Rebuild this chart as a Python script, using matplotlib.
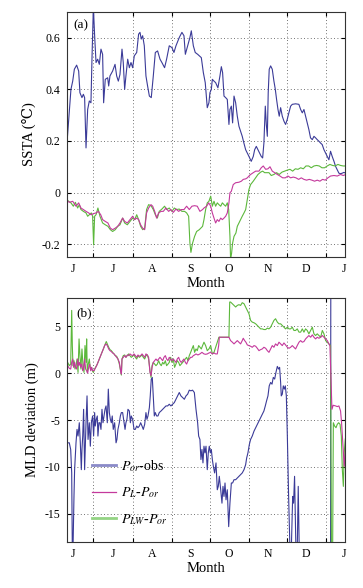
import numpy as np
import matplotlib
matplotlib.use('Agg')
import matplotlib.pyplot as plt
from matplotlib.lines import Line2D

plt.rcParams['font.family'] = ['Liberation Serif', 'DejaVu Serif']
plt.rcParams['mathtext.fontset'] = 'stix'
plt.rcParams['axes.unicode_minus'] = False

# x axis: days counted from 1 June
month_starts = [30, 61, 92, 122, 153, 183, 214]
month_mid = [14, 45.5, 76, 106.5, 137, 167.5, 198, 228]
month_labels = ['J', 'J', 'A', 'S', 'O', 'N', 'D', 'J']

# ---- panel (a) SSTA ----
day_a_obs = [8.4, 10.5, 12.3, 13.7, 15.0, 16.8, 18.4, 19.4, 21.0, 22.1, 23.1, 24.2, 25.5, 26.8, 28.1, 28.9, 30.0, 31.0, 32.1, 33.4,
             34.7, 36.0, 37.3, 38.1, 39.4, 41.3, 42.1, 43.1, 45.2, 47.1, 48.4, 49.7, 51.0, 52.6, 53.6, 54.7, 55.7, 57.1, 58.4, 59.7,
             61.0, 62.3, 64.2, 65.7, 66.8, 67.8, 68.9, 70.2, 71.5, 72.8, 74.2, 75.7, 77.3, 78.9, 80.7, 82.6, 84.1, 86.2, 87.8, 89.9,
             92.0, 93.6, 95.2, 97.8, 99.9, 101.5, 102.6, 104.4, 106.2, 107.3, 108.9, 110.4, 112.3, 113.6, 115.2, 116.8,
             118.3, 119.9, 121.2, 122.0, 123.1, 123.9, 125.2, 126.5, 128.3, 129.9, 131.0, 132.0, 133.1, 134.4, 135.7, 137.0, 137.8, 138.9, 139.9, 141.0,
             142.3, 143.6, 144.9, 146.2, 147.5, 148.8, 150.2, 151.5, 152.8, 154.6, 156.2, 157.3, 158.6, 159.9, 161.2, 162.5, 163.6, 164.6, 165.7, 166.5,
             167.3, 168.0, 168.8, 169.9, 171.2, 172.5, 173.6, 174.6, 175.7, 176.7, 177.8, 179.1, 180.4, 181.7, 183.0, 184.3, 185.7, 187.0, 189.6, 192.2,
             193.6, 194.9, 196.2, 197.5, 198.8, 200.1, 201.4, 202.8, 204.1, 205.4, 206.7, 208.0, 209.3, 210.6, 212.0, 213.3, 214.6, 215.9, 217.2, 218.5,
             219.9, 221.2, 222.5, 223.8, 225.1, 226.4, 227.7, 229.3]
ssta_obs = [0.14, 0.283, 0.40, 0.432, 0.478, 0.494, 0.471, 0.387, 0.368, 0.381, 0.368, 0.173, 0.322, 0.355, 0.348, 0.517, 0.72, 0.608, 0.504, 0.517,
            0.497, 0.556, 0.536, 0.348, 0.439, 0.445, 0.413, 0.452, 0.471, 0.497, 0.452, 0.432, 0.458, 0.556, 0.504, 0.40, 0.452, 0.517, 0.484, 0.504,
            0.484, 0.53, 0.543, 0.614, 0.621, 0.595, 0.608, 0.569, 0.452, 0.413, 0.374, 0.368, 0.452, 0.543, 0.549, 0.517, 0.504, 0.484, 0.517, 0.569,
            0.562, 0.543, 0.569, 0.601, 0.621, 0.608, 0.536, 0.569, 0.601, 0.627, 0.569, 0.543, 0.536, 0.53, 0.523, 0.465,
            0.426, 0.329, 0.348, 0.387, 0.40, 0.439, 0.432, 0.426, 0.406, 0.452, 0.488, 0.465, 0.374, 0.368, 0.361, 0.264, 0.322, 0.335, 0.27, 0.374,
            0.348, 0.296, 0.257, 0.238, 0.218, 0.192, 0.166, 0.153, 0.14, 0.121, 0.14, 0.166, 0.179, 0.166, 0.153, 0.14, 0.134, 0.192, 0.335, 0.264,
            0.218, 0.387, 0.478, 0.491, 0.478, 0.432, 0.40, 0.361, 0.322, 0.296, 0.329, 0.296, 0.277, 0.264, 0.283, 0.309, 0.335, 0.342, 0.344, 0.342,
            0.322, 0.309, 0.322, 0.296, 0.27, 0.244, 0.212, 0.205, 0.218, 0.212, 0.205, 0.199, 0.192, 0.186, 0.166, 0.153, 0.14, 0.127, 0.16, 0.14,
            0.121, 0.101, 0.088, 0.075, 0.073, 0.075, 0.078, 0.075]

day_a_L = [8.4, 11.0, 13.7, 16.3, 18.4, 20.2, 22.1, 24.2, 26.3, 28.1, 30.0, 32.1, 33.9, 35.8, 37.3, 39.4, 41.5, 43.4, 45.2, 47.3,
           49.2, 51.0, 53.1, 54.7, 56.8, 58.9, 61.0, 62.6, 64.2, 65.7, 67.3, 68.9, 70.5, 72.0, 73.6, 75.5, 76.8, 78.4, 79.9, 81.5,
           83.4, 85.2, 87.3, 89.4, 91.2, 93.1, 95.2, 97.3, 99.4, 101.5, 103.6, 105.7, 107.8, 109.9, 112.0, 114.1, 116.2,
           117.3, 119.4, 121.0, 122.6, 123.9, 125.2, 126.5, 127.8, 129.1, 130.5, 131.8, 133.1, 134.4, 135.7, 137.0, 137.8, 138.9, 140.4, 142.3, 144.9,
           146.8, 148.3, 150.2, 151.5, 152.8, 154.1, 156.2, 158.1, 160.7, 162.5, 164.1, 166.0, 167.8, 169.4, 171.2, 173.1, 175.2, 177.3, 179.4, 181.5,
           183.6, 185.7, 187.8, 189.9, 192.0, 194.1, 196.2, 198.3, 200.4, 202.5, 204.6, 206.7, 208.8, 210.9, 213.0, 215.1, 217.2, 219.9, 222.5, 225.1,
           227.2, 229.3]
ssta_L = [-0.027, -0.038, -0.034, -0.053, -0.04, -0.06, -0.066, -0.073, -0.079, -0.086, -0.082, -0.079, -0.073, -0.086, -0.105, -0.112, -0.118, -0.138, -0.144, -0.138,
          -0.131, -0.118, -0.099, -0.112, -0.118, -0.105, -0.092, -0.105, -0.099, -0.105, -0.125, -0.138, -0.144, -0.079, -0.06, -0.047, -0.053, -0.073, -0.099, -0.079,
          -0.073, -0.073, -0.06, -0.073, -0.066, -0.077, -0.064, -0.073, -0.066, -0.066, -0.053, -0.066, -0.053, -0.051, -0.053, -0.073, -0.066,
          -0.06, -0.053, -0.04, -0.053, -0.079, -0.099, -0.118, -0.105, -0.112, -0.099, -0.105, -0.099, -0.092, -0.079, -0.04, -0.001, 0.005, 0.031, 0.038, 0.04,
          0.044, 0.051, 0.053, 0.057, 0.064, 0.07, 0.077, 0.083, 0.083, 0.096, 0.103, 0.09, 0.092, 0.1, 0.083, 0.077, 0.07, 0.064, 0.057, 0.057,
          0.064, 0.057, 0.06, 0.057, 0.051, 0.057, 0.051, 0.048, 0.051, 0.048, 0.044, 0.048, 0.044, 0.051, 0.048, 0.057, 0.064, 0.066, 0.064, 0.07,
          0.066, 0.07]

day_a_LW = [8.4, 10.5, 12.3, 14.2, 15.8, 17.6, 18.9, 20.2, 22.1, 24.2, 25.5, 26.8, 28.4, 29.4, 30.2, 31.0, 32.1, 33.6, 35.2, 37.3,
            39.4, 41.5, 43.4, 45.2, 47.3, 49.2, 51.0, 53.1, 54.7, 56.8, 58.9, 61.0, 62.6, 64.2, 65.7, 67.3, 68.9, 70.5, 72.0, 73.6,
            75.5, 77.3, 78.9, 80.5, 82.0, 84.1, 86.2, 87.8, 89.9, 92.0, 93.9, 95.7, 97.8, 99.9, 102.0, 103.6, 105.2, 106.2, 107.0, 108.3,
            109.9, 111.5, 113.6, 116.2,
            117.3, 118.6, 119.9, 121.2, 122.6, 123.9, 125.2, 126.5, 127.8, 129.1, 130.5, 131.8, 133.1, 134.4, 135.7, 136.8, 137.8, 138.3, 139.1, 139.9,
            141.0, 142.5, 143.6, 144.9, 146.2, 147.5, 148.9, 150.2, 151.5, 152.8, 154.1, 156.2, 158.1, 159.9, 162.0, 163.6, 165.2, 166.7, 168.6, 170.4,
            172.5, 174.6, 176.7, 178.8, 180.9, 183.1, 185.2, 187.3, 189.4, 191.5, 193.6, 195.7, 197.8, 199.9, 202.0, 204.1, 206.2, 208.3, 210.4, 212.5,
            214.6, 216.7, 218.8, 220.9, 223.0, 225.1, 227.2, 229.3]
ssta_LW = [-0.025, -0.034, -0.04, -0.053, -0.038, -0.06, -0.047, -0.066, -0.073, -0.079, -0.092, -0.086, -0.079, -0.092, -0.203, -0.092, -0.086, -0.06, -0.092, -0.118,
           -0.125, -0.131, -0.144, -0.151, -0.144, -0.131, -0.125, -0.099, -0.118, -0.125, -0.112, -0.099, -0.105, -0.086, -0.105, -0.131, -0.144, -0.138, -0.066, -0.047,
           -0.051, -0.066, -0.086, -0.099, -0.073, -0.064, -0.053, -0.066, -0.06, -0.073, -0.06, -0.066, -0.064, -0.073, -0.073, -0.079, -0.092, -0.196, -0.232, -0.196,
           -0.17, -0.151, -0.144, -0.131,
           -0.105, -0.066, -0.04, -0.034, -0.014, -0.053, -0.034, -0.053, -0.04, -0.047, -0.053, -0.04, -0.047, -0.053, -0.04, -0.066, -0.17, -0.26, -0.235, -0.196,
           -0.17, -0.157, -0.131, -0.118, -0.105, -0.092, -0.079, -0.066, -0.027, 0.012, 0.031, 0.044, 0.057, 0.07, 0.079, 0.083, 0.077, 0.077, 0.077, 0.066,
           0.07, 0.077, 0.07, 0.079, 0.083, 0.087, 0.09, 0.083, 0.092, 0.09, 0.096, 0.092, 0.103, 0.103, 0.096, 0.103, 0.105, 0.103, 0.096, 0.096,
           0.103, 0.109, 0.105, 0.103, 0.109, 0.105, 0.103, 0.103]

# ---- panel (b) MLD deviation ----
day_b_obs = [8.4, 9.7, 11.0, 12.1, 12.9, 13.4, 13.9, 14.7, 15.2, 16.3, 17.1, 17.9, 18.9, 19.7, 20.5, 21.0, 21.6, 22.3, 23.1, 23.7,
             24.2, 25.0, 25.8, 26.8, 27.6, 28.4, 29.4, 30.2, 31.0, 31.5, 32.3, 33.1, 33.6, 34.4, 35.2, 36.0, 36.8, 37.6, 38.4, 39.2,
             40.0, 41.0, 41.8, 42.6, 43.4, 44.2, 44.9, 45.7, 46.8, 47.9, 48.6, 49.4, 50.5, 51.3, 52.1, 53.1, 54.2, 55.0, 55.7, 56.5,
             57.3, 58.4, 59.2, 59.9, 61.0, 62.1, 63.1, 64.2, 65.2, 66.3, 67.3, 68.4, 69.4, 70.5, 71.5, 72.3, 73.1, 74.2, 74.9, 75.7,
             76.5, 77.3, 78.1, 78.9, 79.9, 81.0, 82.0, 83.4, 84.7, 86.0, 87.3, 88.6, 89.9, 91.2, 92.6, 93.9, 95.2, 96.5, 97.8, 99.1,
             100.5, 101.8, 103.1, 104.4, 105.7, 107.0, 108.3, 109.7, 111.0, 112.3, 113.1, 114.1, 114.9, 115.7, 116.5, 117.3, 118.1, 118.9,
             119.9, 120.7, 121.5, 122.3, 123.1, 123.9, 124.7, 125.7, 126.8, 127.8, 128.6, 129.4, 130.5, 131.5, 132.3, 133.1, 133.9, 134.7, 135.7, 136.8,
             137.8, 138.9, 139.9, 141.0, 142.3, 143.6, 144.9, 146.2, 147.5, 148.9, 150.2, 151.0, 152.0, 153.1, 154.1, 155.4, 156.8, 158.1, 159.4, 160.7,
             162.0, 163.3, 164.6, 165.7, 166.7, 167.8, 168.8, 169.9, 171.0, 172.0, 173.1, 174.1, 175.2, 176.2, 177.0, 177.8, 178.3, 179.1, 179.9, 180.7,
             181.5, 182.3, 183.1, 184.1, 185.2, 186.2, 187.3, 188.0, 188.8, 189.9, 190.9, 191.7, 192.5, 217.2, 217.5, 229.3]
mld_obs = [-8.14, -7.43, -7.43, -8.14, -10.64, -19, -19, -13.14, -10.29, -7.43, -6.0, -6.71, -5.29, -7.43, -10.29, -8.14, -6.71, -3.86, -10.29, -7.43,
           -5.29, -2.43, -7.07, -5.29, -7.79, -5.29, -4.57, -6.71, -4.21, -5.64, -4.93, -4.57, -6.71, -5.29, -5.29, -6.0, -3.86, -5.29, -4.57, -3.86,
           -3.5, -5.29, -1.71, -4.21, -4.93, -5.29, -4.57, -6.0, -5.29, -7.43, -7.07, -6.0, -5.29, -4.57, -4.21, -4.21, -5.29, -6.0, -5.29, -4.93,
           -3.86, -4.04, -5.29, -4.57, -4.93, -6.0, -6.0, -5.64, -5.82, -5.64, -5.29, -5.64, -6.0, -5.46, -4.21, -4.93, -4.57, -3.68, -2.43, -0.64,
           -0.46, -2.43, -4.57, -4.21, -4.57, -4.57, -4.21, -4.04, -3.86, -3.68, -3.5, -3.5, -3.32, -3.5, -3.32, -3.14, -2.79, -2.43, -2.07, -2.43,
           -2.61, -2.79, -2.43, -2.25, -1.82, -1.89, -1.82, -2.07, -3.86, -5.29, -6.71, -7.07, -9.21, -8.14, -9.57, -7.79, -8.5, -7.79,
           -10.29, -8.5, -7.79, -8.5, -8.14, -9.21, -9.93, -10.64, -9.57, -12.43, -12.07, -11.0, -12.43, -13.86, -12.07, -13.14, -11.71, -13.5, -12.43, -16.36,
           -13.86, -11.71, -11.71, -11.36, -11.36, -11.18, -11.0, -10.82, -10.64, -10.29, -9.75, -9.04, -8.5, -7.61, -7.07, -6.71, -6.18, -5.82, -5.46, -5.11,
           -4.75, -4.39, -4.04, -3.5, -2.96, -2.43, -1.36, -1.0, -1.18, -0.46, -0.64, 0.07, 0.71, 0.43, 0.61, -1.0, -2.43, -2.25, -1.36, -1.71,
           -1.36, -2.43, -6.71, -13.14, -19, -19, -13.14, -13.86, -11.0, -19, -19, -12.07, -19, -19, 25, 25]

day_b_L = [8.4, 9.7, 11.0, 12.1, 12.9, 13.7, 14.4, 15.2, 16.0, 16.8, 17.6, 18.4, 19.2, 20.0, 20.8, 21.6, 22.3, 23.1, 23.9, 24.7,
           25.5, 26.3, 27.1, 27.9, 28.7, 29.4, 30.5, 31.5, 32.6, 33.6, 34.7, 35.8, 36.8, 37.9, 38.9, 40.0, 41.0, 42.1, 43.1, 44.2,
           45.2, 46.3, 47.3, 48.4, 49.4, 50.5, 51.5, 52.1, 52.6, 53.6, 54.7, 55.7, 56.8, 57.8, 58.9, 59.9, 61.0, 62.1, 63.1, 64.2,
           65.2, 66.3, 67.3, 68.4, 69.4, 70.5, 71.5, 72.6, 73.6, 74.7, 75.5, 76.3, 77.3, 78.4, 79.4, 80.5, 81.5, 82.6, 83.6, 84.7,
           85.7, 86.8, 87.8, 88.9, 89.9, 91.0, 92.0, 93.1, 94.1, 95.2, 96.2, 97.3, 98.3, 99.4, 100.5, 101.5, 102.6, 103.6, 104.7, 105.7,
           106.8, 107.8, 108.9, 109.9, 111.0, 112.5, 114.1, 115.7, 117.3,
           118.6, 119.9, 121.2, 122.6, 123.9, 125.2, 126.5, 127.8, 128.9, 129.4, 130.5, 131.8, 133.1, 134.4, 135.7, 137.0, 138.3, 139.7, 141.0, 142.3,
           143.6, 144.9, 146.2, 147.5, 148.3, 149.4, 150.4, 151.5, 152.8, 154.1, 155.4, 156.8, 158.1, 159.4, 160.7, 162.0, 163.3, 164.6, 166.0, 167.3,
           168.6, 169.9, 171.2, 172.5, 173.8, 175.2, 176.5, 177.8, 179.1, 180.4, 181.7, 183.1, 184.4, 185.7, 187.0, 188.3, 189.6, 190.9, 192.3, 193.6,
           194.9, 196.2, 197.5, 198.8, 200.1, 201.5, 202.8, 204.1, 205.4, 206.7, 208.0, 209.4, 210.7, 212.0, 213.3, 214.6, 215.9, 216.7, 218.3, 219.3,
           221.2, 222.5, 223.8, 225.1, 225.9, 226.7, 227.5, 228.0, 228.8, 229.3]
mld_L = [0.61, 0.79, 0.5, 0.43, 1.14, 1.5, 0.61, 1.14, 0.61, 0.43, 1.5, 0.79, 1.14, 0.61, 0.96, 0.25, 0.61, 1.5, 0.43, 0.25,
         0.0, 0.61, 0.96, 0.25, 0.61, 0.25, 0.25, 0.5, 0.79, 1.14, 1.5, 1.86, 2.21, 2.57, 2.93, 3.11, 2.93, 2.57, 2.39, 2.29,
         2.14, 2.04, 1.86, 1.68, 1.5, 1.14, 0.25, -0.11, 1.5, 1.68, 1.86, 1.68, 1.93, 1.86, 2.04, 1.93, 1.86, 2.04, 1.86, 1.68,
         1.93, 1.79, 1.86, 2.04, 1.86, 1.68, 2.04, 1.93, 1.68, 0.07, -0.29, 0.61, 1.14, 1.32, 1.5, 1.32, 1.5, 1.68, 1.5, 1.32,
         1.68, 1.86, 1.5, 1.32, 1.68, 1.5, 1.32, 1.5, 1.32, 1.14, 1.5, 1.68, 1.32, 1.14, 1.32, 1.5, 1.14, 0.96, 1.32, 1.5,
         1.68, 1.68, 1.86, 1.93, 2.04, 1.93, 2.04, 2.21, 2.04,
         2.0, 2.04, 2.14, 2.21, 2.04, 2.14, 2.04, 2.04, 2.93, 3.82, 3.82, 3.82, 3.82, 3.82, 3.82, 3.82, 3.46, 3.29, 3.11, 3.29,
         3.46, 3.29, 3.11, 3.46, 3.71, 3.46, 3.29, 3.0, 2.93, 2.86, 2.75, 2.93, 2.86, 2.64, 2.39, 2.5, 2.57, 2.75, 2.64, 2.39,
         2.21, 2.57, 2.93, 2.75, 3.11, 2.93, 3.29, 3.11, 2.93, 3.21, 3.0, 2.75, 2.64, 2.75, 2.93, 2.75, 2.57, 2.93, 3.29, 3.46,
         3.29, 3.36, 3.64, 3.82, 4.0, 3.82, 4.07, 3.82, 3.64, 3.82, 3.71, 3.82, 4.0, 3.82, 3.64, 3.46, 3.11, 2.93, -3.86, -3.43,
         -3.5, -3.57, -3.5, -4.04, -5.29, -7.07, -8.86, -9.93, -8.5, -7.07]

day_b_LW = [8.4, 9.7, 11.0, 12.1, 12.9, 13.4, 13.9, 14.7, 15.5, 16.3, 17.1, 17.9, 18.7, 19.4, 20.2, 21.0, 21.8, 22.6, 23.4, 24.2,
            24.7, 25.2, 26.0, 26.8, 27.6, 28.4, 29.2, 30.0, 31.0, 32.1, 33.1, 34.2, 35.2, 36.3, 37.3, 38.4, 39.4, 40.2, 41.0, 42.1,
            43.1, 44.2, 45.2, 46.3, 47.3, 48.4, 49.4, 50.5, 51.5, 52.1, 52.6, 53.6, 54.7, 55.7, 56.8, 57.8, 58.9, 59.9, 61.0, 62.1,
            63.1, 64.2, 65.2, 66.3, 67.3, 68.4, 69.4, 70.5, 71.5, 72.6, 73.6, 74.7, 75.5, 76.3, 77.3, 78.4, 79.4, 80.5, 81.5, 82.6,
            83.6, 84.7, 85.7, 86.8, 87.8, 88.9, 89.9, 91.0, 92.0, 93.1, 94.1, 95.2, 96.2, 97.3, 98.3, 99.4, 100.5, 101.5, 102.6, 103.6,
            104.7, 105.7, 106.8, 107.8, 108.9, 109.9, 111.0, 112.0, 113.1, 114.1, 115.2, 116.2, 117.3,
            118.6, 119.9, 121.2, 122.6, 123.9, 125.2, 126.5, 127.8, 129.1, 130.5, 131.8, 133.1, 134.4, 135.7, 137.0, 137.6, 138.3, 139.7, 141.0, 142.3,
            143.6, 144.9, 146.2, 147.5, 148.9, 150.2, 151.5, 152.8, 154.1, 155.4, 156.8, 158.1, 159.4, 160.7, 162.0, 163.3, 164.6, 166.0, 167.3, 168.6,
            169.9, 171.2, 172.5, 173.8, 175.2, 176.5, 177.8, 179.1, 180.4, 181.7, 183.1, 184.4, 185.7, 187.0, 188.3, 189.6, 190.9, 192.3, 193.6, 194.9,
            196.2, 197.5, 198.8, 200.1, 201.5, 202.8, 204.1, 205.4, 206.7, 208.0, 209.4, 210.7, 212.0, 213.3, 214.6, 215.9, 217.2, 218.1, 218.6, 219.4,
            220.4, 221.5, 222.5, 223.6, 224.7, 225.7, 226.5, 227.3, 228.0, 228.8, 229.3]
mld_LW = [0.96, 1.14, 0.79, 0.96, 6.68, 2.93, 0.79, 1.32, 0.43, 0.79, 1.5, 0.07, 3.64, 1.86, 0.43, 2.57, 0.79, 0.07, 2.93, 1.14,
          3.64, 0.07, 0.96, 1.5, 0.43, 0.61, 0.25, 0.07, 0.43, 0.71, 0.96, 1.32, 1.68, 2.04, 2.39, 2.75, 3.11, 3.36, 3.11, 2.75,
          2.5, 2.39, 2.21, 2.04, 1.86, 1.79, 1.5, 0.96, 0.25, -0.21, 1.5, 1.86, 1.93, 1.68, 1.86, 2.04, 1.86, 1.68, 1.79, 1.93,
          1.68, 1.5, 1.86, 1.68, 1.79, 1.93, 1.68, 1.5, 1.86, 1.93, 1.5, 0.25, -0.46, 0.79, 1.14, 0.96, 0.79, 0.96, 1.32, 0.96,
          0.79, 1.14, 0.96, 1.32, 0.79, 0.96, 1.14, 1.68, 1.14, 1.5, 0.61, 0.96, 1.32, 1.14, 0.79, 0.96, 1.14, 1.32, 1.5, 1.68,
          1.32, 1.86, 2.21, 2.57, 2.93, 2.21, 2.57, 2.39, 2.93, 2.75, 2.57, 2.93, 3.29,
          2.93, 2.39, 2.57, 2.93, 2.04, 2.21, 2.75, 3.29, 3.82, 3.82, 3.82, 3.82, 3.82, 3.82, 3.82, 7.57, 7.57, 7.39, 7.21, 7.04,
          7.21, 7.29, 7.21, 7.5, 7.39, 7.04, 6.68, 6.32, 5.61, 5.43, 5.36, 5.25, 5.07, 4.89, 4.71, 4.71, 4.64, 4.64, 4.79, 4.71,
          4.89, 5.25, 5.61, 5.79, 5.43, 5.25, 5.25, 5.07, 4.89, 4.71, 4.89, 4.71, 4.71, 4.89, 4.54, 4.54, 4.71, 4.36, 4.36, 4.71,
          4.36, 4.71, 4.54, 4.18, 4.54, 4.89, 4.18, 4.0, 4.18, 4.0, 3.82, 4.54, 4.18, 3.46, 3.29, 3.11, 2.93, -25, -25, -5.29,
          -5.64, -5.82, -5.46, -5.29, -5.46, -6.71, -10.29, -12.07, -8.5, -7.07, -6.71]

c_obs = '#3b3b98'
c_L = '#c4399c'
c_LW = '#5cb83c'


def style(ax):
    ax.set_xlim(9.2, 228.6)
    ax.set_xticks(month_starts)
    ax.set_xticklabels([])
    ax.set_xticks(month_mid, minor=True)
    ax.set_xticklabels(month_labels, minor=True)
    ax.tick_params(which='major', direction='in', length=3, top=True, right=True, labelsize=8.5, pad=5)
    ax.tick_params(axis='x', which='minor', length=0, labelsize=8.5, pad=4)
    ax.grid(True, which='major', linestyle=(0, (1, 3)), color='#444444', linewidth=0.6)
    ax.set_xlabel('Month', fontsize=10.5, labelpad=1.5)
    for s in ax.spines.values():
        s.set_color('#333333')
        s.set_linewidth(0.8)


fig = plt.figure(figsize=(3.63, 5.88), dpi=100)
ax1 = fig.add_axes([0.1846, 0.5629, 0.7658, 0.4167])
ax2 = fig.add_axes([0.1846, 0.0782, 0.7658, 0.4150])

ax1.plot(day_a_obs, ssta_obs, color=c_obs, lw=0.8)
ax1.plot(day_a_LW, ssta_LW, color=c_LW, lw=0.8)
ax1.plot(day_a_L, ssta_L, color=c_L, lw=0.8)
style(ax1)
ax1.set_ylim(-0.25, 0.7)
ax1.set_yticks([-0.2, 0, 0.2, 0.4, 0.6])
ax1.set_yticklabels(['-0.2', '0', '0.2', '0.4', '0.6'])
ax1.set_ylabel('SSTA (\u2103)', fontsize=10.5)
ax1.text(0.022, 0.97, '(a)', transform=ax1.transAxes, va='top', ha='left', fontsize=9.5)

ax2.plot(day_b_obs, mld_obs, color=c_obs, lw=0.8)
ax2.plot(day_b_LW, mld_LW, color=c_LW, lw=0.8)
ax2.plot(day_b_L, mld_L, color=c_L, lw=0.8)
style(ax2)
ax2.set_ylim(-18, 8)
ax2.set_yticks([-15, -10, -5, 0, 5])
ax2.set_ylabel('MLD deviation (m)', fontsize=10.5)
ax2.text(0.035, 0.96, '(b)', transform=ax2.transAxes, va='top', ha='left', fontsize=9.5)

handles = [Line2D([], [], color='#8a8ac8', lw=2.0),
           Line2D([], [], color=c_L, lw=0.9),
           Line2D([], [], color='#94d484', lw=2.0)]
labels = [r'$P_{or}$-obs', r'$P_L$-$P_{or}$', r'$P_{LW}$-$P_{or}$']
ax2.legend(handles, labels, loc='upper left', bbox_to_anchor=(0.09, 0.345), frameon=False,
           fontsize=10, handlelength=1.7, handletextpad=0.35, labelspacing=0.85,
           borderpad=0, borderaxespad=0)

fig.savefig('out.png', dpi=100)
